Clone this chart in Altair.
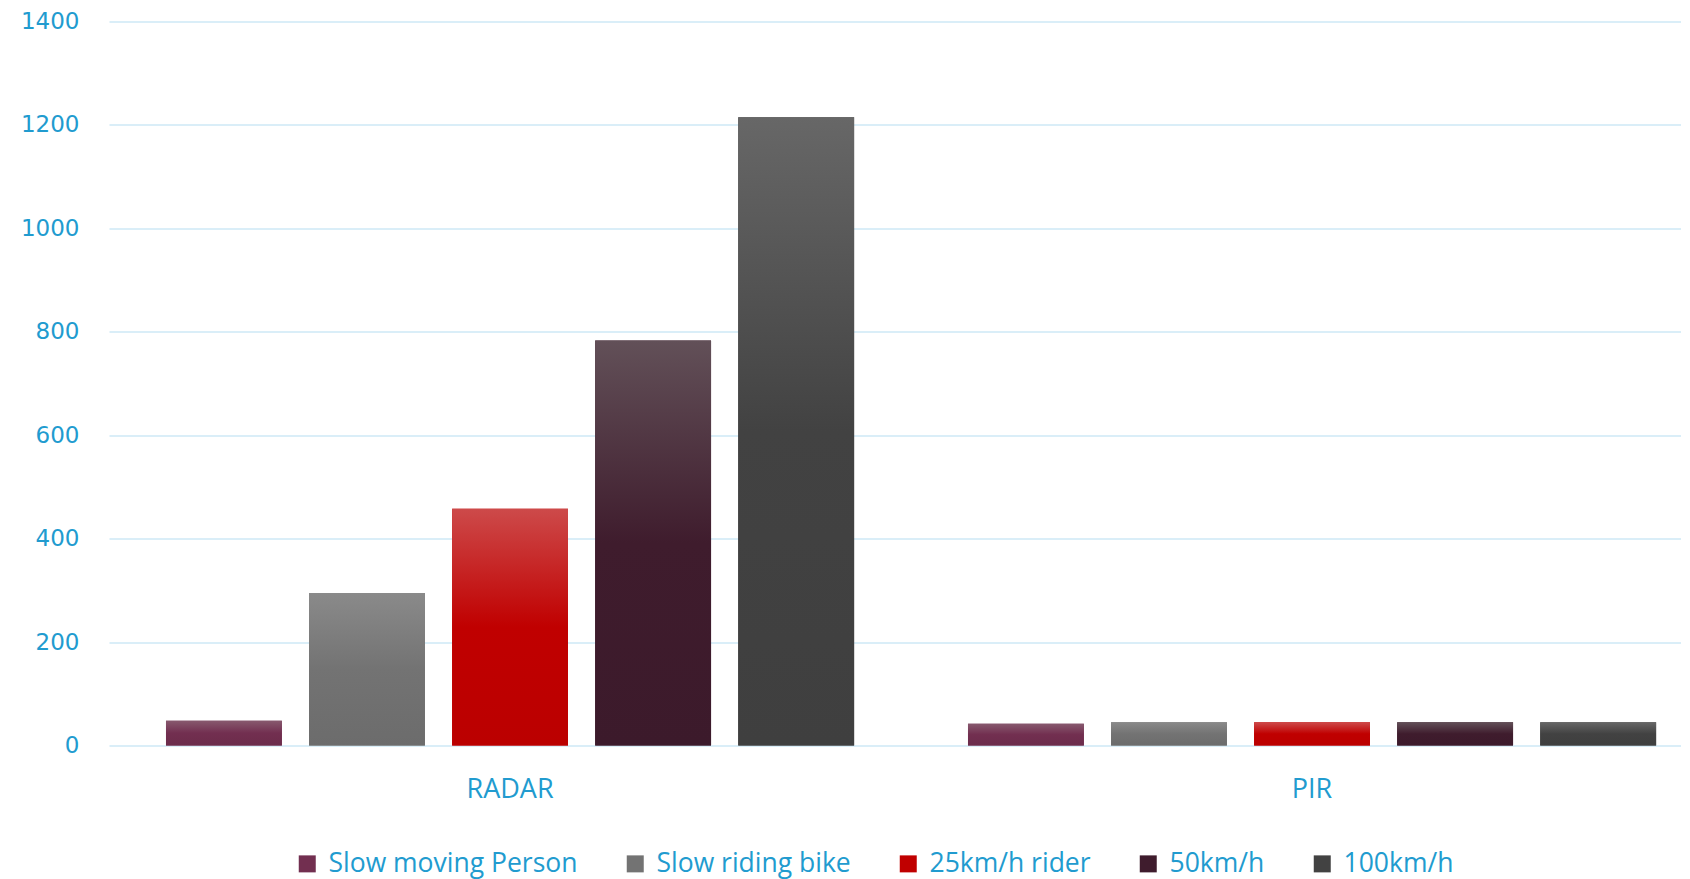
import altair as alt
import pandas as pd

groups = ["RADAR", "PIR"]
series = ["Slow moving Person", "Slow riding bike", "25km/h rider", "50km/h", "100km/h"]
radar_values = [48, 295, 458, 783, 1215]
pir_values = [42, 45, 45, 45, 45]
y_ticks = [0, 200, 400, 600, 800, 1000, 1200, 1400]

base_colors = ["#722F50", "#737373", "#C00000", "#3F1C2D", "#424242"]
top_colors = ["#87596E", "#8A8A8A", "#CD4A4A", "#625058", "#676767"]
bottom_colors = ["#6C2C4B", "#6C6C6C", "#BB0000", "#3C1A2B", "#3F3F3F"]

BLUE = "#219BCF"

rows = []
for g, vals in zip(groups, [radar_values, pir_values]):
    for s, v in zip(series, vals):
        rows.append({"Sensor": g, "Target": s, "Range": v})
df = pd.DataFrame(rows)

x_enc = alt.X(
    "Sensor:N",
    sort=groups,
    scale=alt.Scale(domain=groups, paddingInner=0.142, paddingOuter=0.05105, align=0.696),
    axis=alt.Axis(title=None, labelAngle=0, ticks=False, domain=False, labelPadding=31,
                  labelFont="Open Sans", labelFontSize=27, labelColor=BLUE),
)
xo_enc = alt.XOffset(
    "Target:N",
    sort=series,
    scale=alt.Scale(domain=series, paddingInner=0.19, paddingOuter=0),
)
y_enc = alt.Y(
    "Range:Q",
    scale=alt.Scale(domain=[0, 1400], nice=False),
    axis=alt.Axis(title=None, values=y_ticks, format="d", ticks=False, domain=False,
                  labelPadding=30, labelFont="DejaVu Sans", labelFontSize=23,
                  labelColor=BLUE, grid=True, gridColor="#DAEEF8", gridWidth=2),
)

base = alt.Chart(df).mark_bar().encode(
    x=x_enc,
    xOffset=xo_enc,
    y=y_enc,
    color=alt.Color(
        "Target:N",
        sort=series,
        scale=alt.Scale(domain=series, range=base_colors),
        legend=alt.Legend(
            title=None, orient="none", legendX=185, legendY=829, direction="horizontal",
            columns=5, symbolType="square", symbolSize=289, symbolStrokeWidth=0,
            labelFont="Open Sans", labelFontSize=26.5, labelColor=BLUE, labelOffset=8,
            columnPadding=44, labelLimit=400,
        ),
    ),
)

layers = [base]
for s, tc, bc, dc in zip(series, top_colors, base_colors, bottom_colors):
    grad = alt.Gradient(
        gradient="linear", x1=0, x2=0, y1=0, y2=1,
        stops=[alt.GradientStop(offset=0, color=tc),
               alt.GradientStop(offset=0.5, color=bc),
               alt.GradientStop(offset=1, color=dc)],
    )
    layers.append(
        alt.Chart(df).transform_filter(alt.datum.Target == s)
        .mark_bar(color=grad)
        .encode(x=x_enc, xOffset=xo_enc, y=y_enc)
    )

chart = alt.layer(*layers).properties(
    width=1572, height=724,
    padding={"left": 12, "top": 2.5, "right": 0, "bottom": 3},
).configure_view(stroke=None)

chart.save("out.html", embed_options={"renderer": "svg", "actions": False})
